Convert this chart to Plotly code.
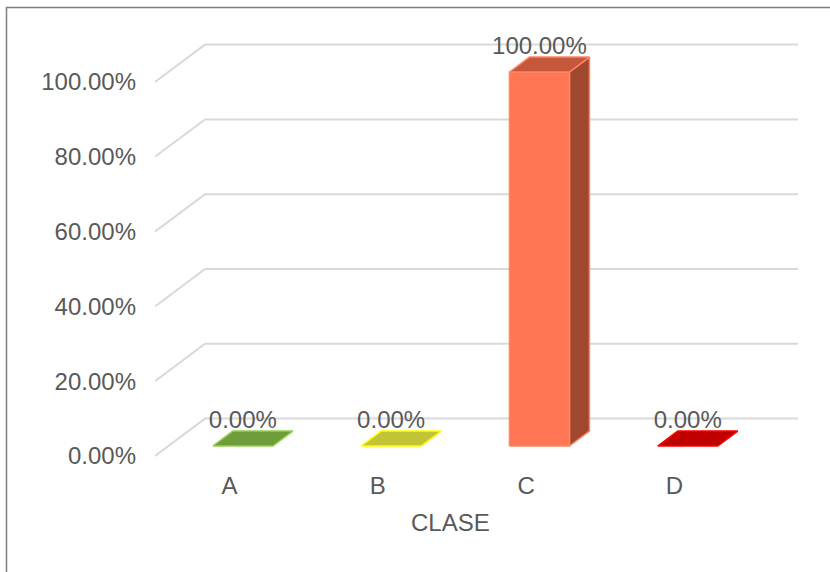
import plotly.graph_objects as go

# ---- data ----
categories = ["A", "B", "C", "D"]
values = [0.0, 0.0, 100.0, 0.0]          # percent
y_ticks = [0, 20, 40, 60, 80, 100]
y_tick_labels = ["0.00%", "20.00%", "40.00%", "60.00%", "80.00%", "100.00%"]
axis_title = "CLASE"

# ---- styles ----
face_colors = [
    dict(front="#70A03C", side="#557A2D", top="#6E9D3A", line="#92D050"),
    dict(front="#C4C436", side="#959529", top="#C3C336", line="#FFFF00"),
    dict(front="#FF7654", side="#A0482F", top="#C5573A", line="#FF8566"),
    dict(front="#C00000", side="#900000", top="#C00000", line="#FF0000"),
]
TEXT = "#595959"
GRID = "#D9D9D9"
FONT = "Liberation Sans, Arial, sans-serif"
FS = 24

W, H = 830, 572
PX_PER_CAT = 148.3        # px per category unit
PX_PER_PCT = 3.74         # px per percent unit
CAT0_PX = 229.5           # pixel of category 0 at front plane
ZERO_PX = 456             # pixel of 0% at front plane
ML, MB = 155, 103         # plot area margins

DX = 50 / PX_PER_CAT      # depth shift (category units)
DY = 10.0                 # depth shift (percent units)
D_FRONT, D_BACK = 0.267, 0.667
HW = 30 / PX_PER_CAT
WALL_RIGHT_BACK = (798 - CAT0_PX) / PX_PER_CAT - DX

x_lo = (ML - CAT0_PX) / PX_PER_CAT
x_hi = (W - CAT0_PX) / PX_PER_CAT
y_hi = ZERO_PX / PX_PER_PCT
y_lo = (ZERO_PX - (H - MB)) / PX_PER_PCT


def proj(x, v, d):
    return x + d * DX, v + d * DY


fig = go.Figure()

# wall gridlines
for t in y_ticks:
    pts = [proj(x_lo, t, 0), proj(x_lo, t, 1), proj(WALL_RIGHT_BACK, t, 1)]
    fig.add_trace(go.Scatter(x=[p[0] for p in pts], y=[p[1] for p in pts], mode="lines",
                             line=dict(color=GRID, width=2), hoverinfo="skip", showlegend=False))

# bars
for i, (c, v) in enumerate(zip(categories, values)):
    col = face_colors[i]
    faces = []
    if v > 0:
        faces.append(("side", [(i + HW, 0, D_FRONT), (i + HW, 0, D_BACK), (i + HW, v, D_BACK), (i + HW, v, D_FRONT)]))
        faces.append(("front", [(i - HW, 0, D_FRONT), (i + HW, 0, D_FRONT), (i + HW, v, D_FRONT), (i - HW, v, D_FRONT)]))
    faces.append(("top", [(i - HW, v, D_FRONT), (i + HW, v, D_FRONT), (i + HW, v, D_BACK), (i - HW, v, D_BACK)]))
    for name, corners in faces:
        pts = [proj(*p) for p in corners]
        pts.append(pts[0])
        fig.add_trace(go.Scatter(x=[p[0] for p in pts], y=[p[1] for p in pts], mode="lines",
                                 fill="toself", fillcolor=col[name],
                                 line=dict(color=col["line"], width=1.5),
                                 hoverinfo="skip", showlegend=False))

# data labels
lx, ly = [], []
for i, v in enumerate(values):
    _, py_ = proj(i, v, D_BACK)
    lx.append(i + D_FRONT * DX)
    ly.append(py_ + 2.3)
fig.add_trace(go.Scatter(x=lx, y=ly, mode="text", text=[f"{v:.2f}%" for v in values],
                         textposition="middle center",
                         textfont=dict(family=FONT, size=FS, color=TEXT),
                         hoverinfo="skip", showlegend=False))


# border (pixel -> paper): left and top edges only
def paper_x(px):
    return (px - ML) / (W - ML)


def paper_y(py):
    return ((H - MB) - py) / (H - MB)


fig.add_shape(type="path", xref="paper", yref="paper",
              path=f"M {paper_x(6.5)},{paper_y(H + 5)} L {paper_x(6.5)},{paper_y(7.5)} L {paper_x(W + 5)},{paper_y(7.5)}",
              line=dict(color="#7F7F7F", width=1.5), layer="above")

fig.add_annotation(text=axis_title, xref="paper", yref="paper",
                   x=paper_x(450), y=paper_y(522), xanchor="center", yanchor="middle",
                   showarrow=False, font=dict(family=FONT, size=FS, color=TEXT))

fig.update_layout(
    width=W, height=H,
    margin=dict(l=ML, r=0, t=0, b=MB),
    paper_bgcolor="white", plot_bgcolor="white",
    xaxis=dict(range=[x_lo, x_hi], tickvals=list(range(len(categories))), ticktext=categories,
               showgrid=False, zeroline=False, showline=False, ticks="",
               tickfont=dict(family=FONT, size=FS, color=TEXT), ticklabelstandoff=0,
               fixedrange=True),
    yaxis=dict(range=[y_lo, y_hi], tickvals=y_ticks, ticktext=y_tick_labels,
               showgrid=False, zeroline=False, showline=False, ticks="",
               tickfont=dict(family=FONT, size=FS, color=TEXT), ticklabelstandoff=18,
               fixedrange=True),
    showlegend=False,
)

fig.write_html("out.html")
